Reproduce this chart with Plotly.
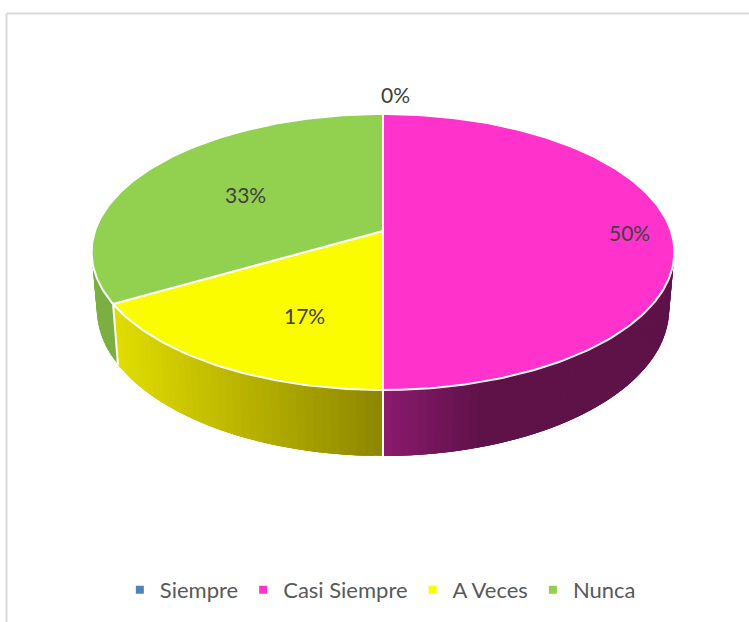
import math
import plotly.graph_objects as go

categories = ["Siempre", "Casi Siempre", "A Veces", "Nunca"]
values = [0, 3, 1, 2]
top_colors = ["#4F81BD", "#FF33CC", "#FBFC00", "#92D050"]
legend_colors = ["#4F81BD", "#FF33CC", "#FBFC00", "#92D050"]
label_text = ["0%", "50%", "17%", "33%"]

# perspective view of the disc, in figure pixels
CX, CY = 383.0, 231.0
A, B, K = 288.0, 134.8, 0.152
DEPTH, SHRINK = 56.0, 0.982


def top_pt(deg):
    t = math.radians(deg)
    u, v = math.sin(t), -math.cos(t)
    d = 1 - K * v
    return CX + A * u / d, CY + B * v / d


def bottom_pt(deg):
    v = -math.cos(math.radians(deg))
    x, y = top_pt(deg)
    return CX + (x - CX) * SHRINK, y + DEPTH / (1 - K * v)


def mix(c1, c2, f):
    f = max(0.0, min(1.0, f))
    return "rgb(%d,%d,%d)" % tuple(round(a + (b - a) * f) for a, b in zip(c1, c2))


def side_color(i, x):
    if i == 1:
        return mix((139, 26, 110), (94, 18, 72), (x - CX) / 100)
    if i == 2:
        return mix((141, 134, 0), (224, 220, 0), (CX - x) / 266)
    return "rgb(124,175,65)"


total = sum(values)
spans = []
acc = 0
for v in values:
    spans.append((acc / total * 360, (acc + v) / total * 360))
    acc += v

fig = go.Figure()

# side wall: each strip runs past its neighbour and is overpainted, so no seams show
for i, (a0, a1) in enumerate(spans):
    if a1 == a0:
        continue
    n = max(2, int((a1 - a0) / 1.5))
    for j in range(n):
        s0 = a0 + (a1 - a0) * j / n
        s1 = min(a1, a0 + (a1 - a0) * (j + 3) / n)
        sm = s0 + (a1 - a0) / n / 2
        if -math.cos(math.radians(sm)) < -0.35:
            continue
        top = [top_pt(s0 + (s1 - s0) * k / 3) for k in range(4)]
        bot = [bottom_pt(s1 - (s1 - s0) * k / 3) for k in range(4)]
        p = top + bot + [top[0]]
        col = side_color(i, top_pt(sm)[0])
        fig.add_trace(go.Scatter(
            x=[q[0] for q in p], y=[q[1] for q in p], mode="lines", fill="toself",
            fillcolor=col, line=dict(width=0),
            showlegend=False, hoverinfo="skip"))

# white seams on the wall at the slice boundaries
for i, (a0, a1) in enumerate(spans):
    if a1 > a0 and 90 < a1 < 270:
        t, b = top_pt(a1), bottom_pt(a1)
        fig.add_trace(go.Scatter(x=[t[0], b[0]], y=[t[1], b[1]], mode="lines",
                                 line=dict(color="white", width=2),
                                 showlegend=False, hoverinfo="skip"))

# top faces
for i, (a0, a1) in enumerate(spans):
    if a1 == a0:
        continue
    n = max(2, int(a1 - a0))
    pts = [(CX, CY)] + [top_pt(a0 + (a1 - a0) * j / n) for j in range(n + 1)] + [(CX, CY)]
    fig.add_trace(go.Scatter(
        x=[q[0] for q in pts], y=[q[1] for q in pts], mode="lines", fill="toself",
        fillcolor=top_colors[i], line=dict(color="white", width=2),
        showlegend=False, hoverinfo="skip"))

# legend keys
for name, col in zip(categories, legend_colors):
    fig.add_trace(go.Scatter(x=[None], y=[None], mode="markers", name=name,
                             marker=dict(symbol="square", size=8, color=col)))

LABEL_ANCHORS = [(395, 94.5), (629.5, 232.5), (304.5, 315.5), (245, 194.5)]
annotations = [
    dict(x=x, y=y, text=t, showarrow=False, xref="x", yref="y",
         font=dict(family="Lato, Carlito, sans-serif", size=21, color="#404040"))
    for t, (x, y) in zip(label_text, LABEL_ANCHORS)
]

fig.update_layout(
    width=749, height=622,
    margin=dict(l=0, r=0, t=0, b=0),
    paper_bgcolor="white", plot_bgcolor="white",
    xaxis=dict(range=[0, 749], visible=False, fixedrange=True),
    yaxis=dict(range=[622, 0], visible=False, fixedrange=True),
    annotations=annotations,
    legend=dict(orientation="h", x=0.16, xanchor="left", y=0.0515, yanchor="middle",
                font=dict(family="Lato, Carlito, sans-serif", size=22, color="#595959"),
                bgcolor="rgba(0,0,0,0)", itemclick=False, itemdoubleclick=False),
    shapes=[
        dict(type="line", xref="x", yref="y", x0=6.5, x1=6.5, y0=13.5, y1=622,
             line=dict(color="#D9D9D9", width=2)),
        dict(type="line", xref="x", yref="y", x0=6.5, x1=749, y0=13.5, y1=13.5,
             line=dict(color="#D9D9D9", width=2)),
    ],
)

fig.write_html("out.html", config={"displayModeBar": False},
               post_script="document.body.style.margin='0';document.documentElement.style.overflow='hidden';")
